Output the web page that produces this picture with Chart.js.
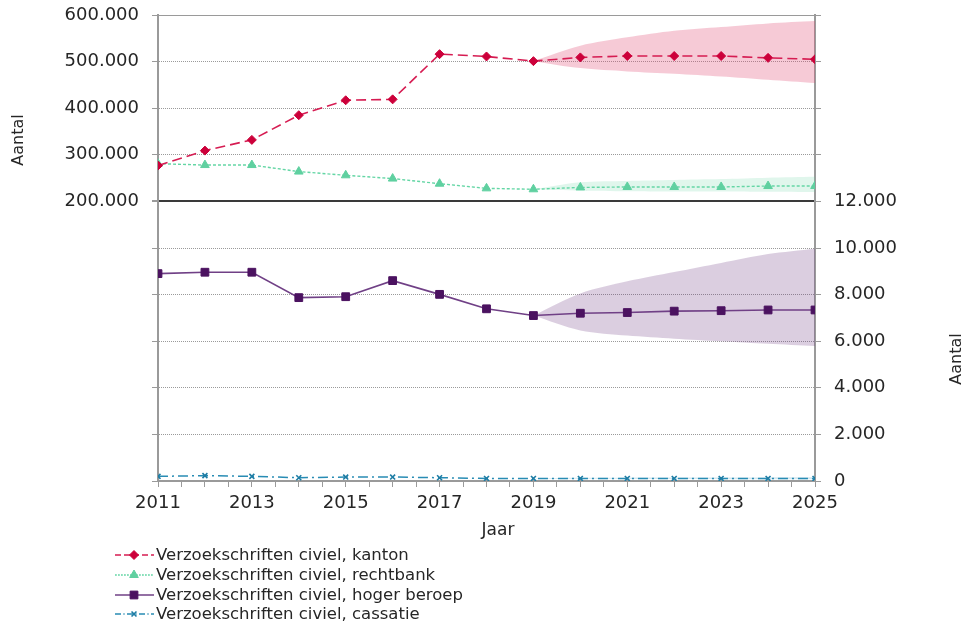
<!DOCTYPE html>
<html>
<head>
<meta charset="utf-8">
<script src="https://cdn.jsdelivr.net/npm/chart.js@4/dist/chart.umd.min.js"></script>
<style>
  html, body { margin: 0; padding: 0; background: #fff; }
  #wrap { width: 970px; height: 627px; }
</style>
</head>
<body>
<div id="wrap"><canvas id="myChart" width="970" height="627"></canvas></div>
<script>
const years = [2011, 2012, 2013, 2014, 2015, 2016, 2017, 2018, 2019, 2020, 2021, 2022, 2023, 2024, 2025];
const labels = ["Verzoekschriften civiel, kanton", "Verzoekschriften civiel, rechtbank",
  "Verzoekschriften civiel, hoger beroep", "Verzoekschriften civiel, cassatie"];

// left axis (kanton, rechtbank)
const kanton = [277000, 309000, 332000, 385000, 417000, 419000, 516000, 511000, 501000, 509000, 512000, 512000, 512000, 508000, 505000];
const rechtbank = [281000, 278000, 278000, 264000, 256000, 249000, 238000, 228000, 226000, 230000, 231000, 231000, 231000, 233000, 233000];
// right axis (hoger beroep, cassatie)
const hogerBeroep = [8900, 8960, 8960, 7870, 7910, 8600, 8010, 7390, 7100, 7200, 7230, 7290, 7310, 7340, 7340];
const cassatie = [200, 230, 200, 140, 170, 170, 140, 110, 110, 110, 110, 110, 110, 110, 110];

// forecast bands
const N = null;
const kantonUpper = [N, N, N, N, N, N, N, N, 501000, 534000, 552000, 566000, 574000, 582000, 587000];
const kantonLower = [N, N, N, N, N, N, N, N, 501000, 486000, 479000, 474000, 468000, 461000, 454000];
const rechtbankUpper = [N, N, N, N, N, N, N, N, 226000, 241000, 244000, 246000, 248000, 251000, 253000];
const rechtbankLower = [N, N, N, N, N, N, N, N, 226000, 223000, 222000, 221500, 221000, 220500, 220000];
const hogerUpper = [N, N, N, N, N, N, N, N, 7100, 8050, 8570, 8970, 9360, 9740, 9970];
const hogerLower = [N, N, N, N, N, N, N, N, 7100, 6460, 6240, 6110, 6000, 5890, 5790];
const cassatieUpper = [N, N, N, N, N, N, N, N, 110, 135, 140, 145, 150, 155, 160];
const cassatieLower = [N, N, N, N, N, N, N, N, 110, 95, 90, 85, 80, 75, 70];

const leftTicks = [200000, 300000, 400000, 500000, 600000];
const rightTicks = [0, 2000, 4000, 6000, 8000, 10000, 12000];

const FONT = "'DejaVu Sans'";
const textColor = "#262626";
const gridGray = "#9a9a9a";

const pts = (arr) => years.map((y, i) => ({ x: y, y: arr[i] }));
const fmt = (v) => String(Math.round(v)).replace(/\B(?=(\d{3})+(?!\d))/g, ".");

function series(label, arr, axis, color, pointColor, dash, style, radius, width) {
  return {
    label: label, data: pts(arr), yAxisID: axis,
    borderColor: color, backgroundColor: pointColor,
    pointBorderColor: pointColor, pointBackgroundColor: pointColor,
    borderDash: dash, borderWidth: width, pointStyle: style,
    pointRadius: radius, pointBorderWidth: style === 'crossRot' ? 1.6 : 1,
    tension: 0, fill: false
  };
}
function band(arr, axis, color, fillTarget) {
  return {
    label: '', data: pts(arr), yAxisID: axis,
    borderWidth: 0, pointRadius: 0, borderColor: 'rgba(0,0,0,0)',
    backgroundColor: color, fill: fillTarget, tension: 0.3, spanGaps: false
  };
}

const data = {
  datasets: [
    series(labels[0], kanton, 'y', 'rgb(214,28,82)', 'rgb(204,0,58)', [10, 5], 'rectRot', 4.5, 1.6),
    series(labels[1], rechtbank, 'y', 'rgb(100,214,165)', 'rgb(95,208,160)', [3, 2], 'triangle', 5, 1.4),
    series(labels[2], hogerBeroep, 'y2', 'rgb(112,64,134)', 'rgb(75,18,96)', [], 'rect', 5.5, 1.6),
    series(labels[3], cassatie, 'y2', 'rgb(40,140,180)', 'rgb(30,125,165)', [10, 4, 2, 4], 'crossRot', 3.5, 1.5),
    band(kantonUpper, 'y', 'rgba(225,80,120,0.3)', '+1'),
    band(kantonLower, 'y', 'rgba(0,0,0,0)', false),
    band(rechtbankUpper, 'y', 'rgba(100,210,160,0.2)', '+1'),
    band(rechtbankLower, 'y', 'rgba(0,0,0,0)', false),
    band(hogerUpper, 'y2', 'rgba(110,60,130,0.25)', '+1'),
    band(hogerLower, 'y2', 'rgba(0,0,0,0)', false),
    band(cassatieUpper, 'y2', 'rgba(40,140,180,0.2)', '+1'),
    band(cassatieLower, 'y2', 'rgba(0,0,0,0)', false),
  ]
};

// axis titles + legend drawn on the canvas
const extrasPlugin = {
  id: 'extras',
  afterDraw(chart) {
    const c = chart.ctx;
    c.save();
    c.fillStyle = textColor;
    c.font = "16px " + FONT;
    c.textAlign = 'center';
    c.textBaseline = 'middle';
    c.save(); c.translate(19, 140); c.rotate(-Math.PI / 2); c.fillText('Aantal', 0, 0); c.restore();
    c.save(); c.translate(957, 359); c.rotate(-Math.PI / 2); c.fillText('Aantal', 0, 0); c.restore();
    c.font = "17px " + FONT;
    c.fillText('Jaar', 498, 531);

    // legend
    const rows = [555, 575, 595, 614];
    c.font = "16.5px " + FONT;
    c.textAlign = 'left';
    for (let i = 0; i < 4; i++) {
      const ds = chart.data.datasets[i];
      const y = rows[i];
      c.save();
      c.strokeStyle = ds.borderColor;
      c.lineWidth = ds.borderWidth;
      c.setLineDash(ds.borderDash.length ? ds.borderDash.map(d => d * 0.6) : []);
      c.beginPath(); c.moveTo(115, y); c.lineTo(154, y); c.stroke();
      c.restore();
      c.save();
      c.fillStyle = ds.pointBackgroundColor;
      c.strokeStyle = ds.pointBorderColor;
      c.lineWidth = ds.pointBorderWidth;
      Chart.helpers.drawPoint(c, { pointStyle: ds.pointStyle, radius: ds.pointRadius, rotation: 0, borderWidth: ds.pointBorderWidth }, 134, y);
      c.restore();
      c.fillStyle = textColor;
      c.fillText(ds.label, 156, y + 1);
    }
    c.restore();
  }
};

const isSolid = (v) => v === 200000 || v === 600000 || v === -400000;

const config = {
  type: 'line',
  data: data,
  options: {
    responsive: false,
    animation: false,
    layout: { padding: { top: 15, left: 0, right: 0, bottom: 0 } },
    plugins: {
      legend: { display: false },
      tooltip: { enabled: false },
      title: { display: false }
    },
    scales: {
      x: {
        type: 'linear', min: 2011, max: 2025,
        afterFit: (s) => { s.height = 146; s.paddingLeft = 0; s.paddingRight = 0; },
        ticks: {
          stepSize: 0.5, autoSkip: false, maxRotation: 0, padding: 6,
          color: textColor, font: { family: FONT, size: 18 },
          callback: (v) => (Number.isInteger(v) && (v - 2011) % 2 === 0) ? String(v) : ''
        },
        grid: { drawOnChartArea: false, tickLength: 6, tickColor: gridGray, lineWidth: 1 },
        border: { display: true, color: gridGray, width: 1.5 }
      },
      y: {
        type: 'linear', position: 'left', min: -400000, max: 600000,
        afterFit: (s) => { s.width = 158; s.paddingTop = 0; s.paddingBottom = 0; },
        afterBuildTicks: (s) => {
          const t = [];
          for (let v = -400000; v <= 600000; v += 100000) t.push({ value: v });
          s.ticks = t;
        },
        ticks: {
          padding: 13, color: textColor, font: { family: FONT, size: 18 },
          callback: (v) => leftTicks.includes(v) ? fmt(v) : ''
        },
        grid: {
          tickLength: 6, tickColor: gridGray, tickBorderDash: [],
          color: (ctx) => (ctx.tick && ctx.tick.value === 200000) ? '#3a3a3a' : gridGray,
          lineWidth: (ctx) => (ctx.tick && ctx.tick.value === 200000) ? 2 : 1
        },
        border: {
          display: true, color: gridGray, width: 2,
          dash: (ctx) => (ctx.tick && isSolid(ctx.tick.value)) ? [] : [1, 1]
        }
      },
      y2: {
        type: 'linear', position: 'right', min: 0, max: 20000,
        afterFit: (s) => { s.width = 155; s.paddingTop = 0; s.paddingBottom = 0; },
        afterBuildTicks: (s) => {
          const t = [];
          for (let v = 0; v <= 20000; v += 2000) t.push({ value: v });
          s.ticks = t;
        },
        ticks: {
          padding: 13, color: textColor, font: { family: FONT, size: 18 },
          callback: (v) => rightTicks.includes(v) ? fmt(v) : ''
        },
        grid: { drawOnChartArea: false, tickLength: 6, tickColor: gridGray, tickBorderDash: [] },
        border: { display: true, color: gridGray, width: 2 }
      }
    }
  },
  plugins: [extrasPlugin]
};

new Chart("myChart", config);
</script>
</body>
</html>
